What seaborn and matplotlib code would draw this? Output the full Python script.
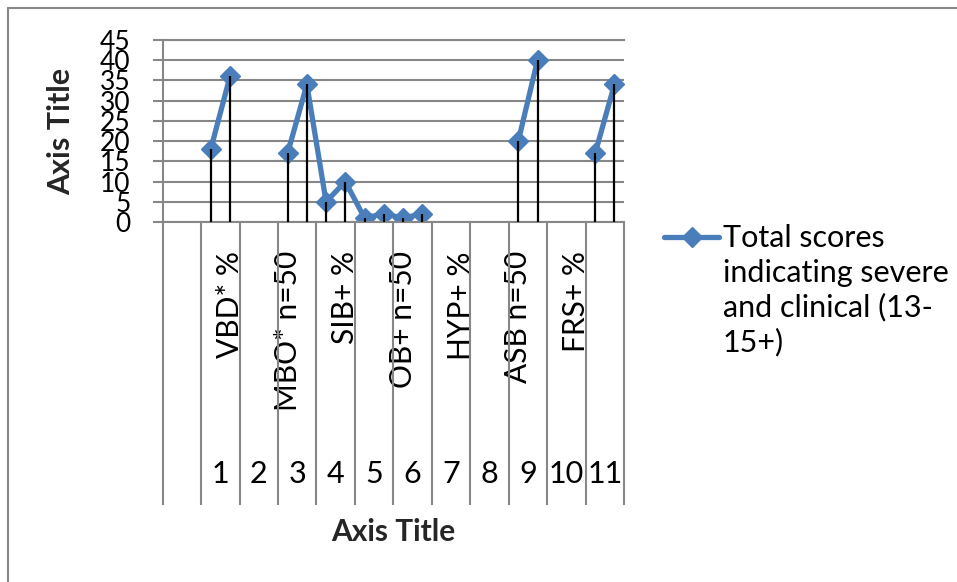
import numpy as np
import pandas as pd
import matplotlib
matplotlib.use("Agg")
import matplotlib.pyplot as plt
from matplotlib.lines import Line2D
import seaborn as sns

# Category slots along the x axis (two slots per numbered group)
slots = list(range(24))
inner_labels = ["", "", "", "VBD* %", "", "", "MBO* n=50", "", "", "SIB+ %", "", "",
                "OB+ n=50", "", "", "HYP+ %", "", "", "ASB n=50", "", "", "FRS+ %", "", ""]
group_labels = ["", "1", "2", "3", "4", "5", "6", "7", "8", "9", "10", "11"]
scores = [np.nan, np.nan, 18, 36, np.nan, np.nan, 17, 34, 5, 10, 1, 2, 1, 2,
          np.nan, np.nan, np.nan, np.nan, 20, 40, np.nan, np.nan, 17, 34]
legend_lines = ["Total scores", "indicating severe", "and clinical (13-", "15+)"]
y_ticks = list(range(0, 50, 5))

BLUE = "#4A7EBB"
GRID = "#878787"

sns.set_theme(style="white")
plt.rcParams["font.family"] = ["Lato", "DejaVu Sans"]

W, H = 957, 582
fig = plt.figure(figsize=(W / 100, H / 100), dpi=100)
fig.patch.set_facecolor("white")

def fx(px):
    return px / W

def fy(py):
    return 1 - py / H

ax_left, ax_right, ax_top, ax_bottom = 162.7, 624.0, 40.0, 222.0
ax = fig.add_axes([fx(ax_left), fy(ax_bottom), fx(ax_right - ax_left), (ax_bottom - ax_top) / H])
ax.set_facecolor("white")

# Break the series into runs of consecutive values
df = pd.DataFrame({"slot": slots, "score": scores})
df["run"] = df["score"].isna().cumsum()
pts = df.dropna()

sns.lineplot(data=pts, x="slot", y="score", units="run", estimator=None,
             color=BLUE, linewidth=3.8, marker="D", markersize=10,
             markeredgecolor=BLUE, markeredgewidth=1, legend=False, ax=ax, zorder=2)

# Drop lines from each point to the axis
ax.vlines(pts["slot"], 0, pts["score"], color="black", linewidth=1.6, zorder=3)

ax.set_xlim(-0.5, 23.5)
ax.set_ylim(0, 45)
ax.set_yticks(y_ticks)
ax.yaxis.grid(True, color=GRID, linewidth=1.5)
ax.xaxis.grid(False)
ax.set_axisbelow(True)
for side in ["left", "top", "bottom"]:
    ax.spines[side].set_visible(True)
    ax.spines[side].set_color(GRID)
    ax.spines[side].set_linewidth(1.5)
ax.spines["right"].set_visible(False)

ax.tick_params(axis="y", direction="out", length=7.2, width=1.5, color=GRID,
               labelsize=19, pad=15.8, labelcolor="black", left=True)
ax.set_xticks(slots)
ax.set_xticklabels(inner_labels, rotation=90)
ax.tick_params(axis="x", length=0, pad=21, labelsize=21.5, labelcolor="black")
ax.set_xlabel("")
ax.set_ylabel("")

# Group separators and numbered group labels below the axis
xt = ax.get_xaxis_transform()
sep_bottom = (ax_bottom - 505) / (ax_bottom - ax_top)
for i in range(len(group_labels) + 1):
    xpos = -0.5 + 2 * i
    ax.plot([xpos, xpos], [0, sep_bottom], transform=xt, color=GRID,
            linewidth=1.5, clip_on=False, solid_capstyle="butt")
lab_y = (ax_bottom - 483.3) / (ax_bottom - ax_top)
for k, lab in enumerate(group_labels):
    ax.text(0.5 + 2 * k, lab_y, lab, transform=xt, ha="center", va="baseline",
            fontsize=22, color="black")

# Axis titles
fig.text(fx(61), fy(131), "Axis Title", rotation=90, fontweight="bold",
         fontsize=22, ha="center", va="center")
fig.text(fx(393.5), fy(532), "Axis Title", fontweight="bold",
         fontsize=21.5, ha="center", va="center")

# Legend entry
fig.add_artist(Line2D([fx(664), fx(719)], [fy(236.5)] * 2, transform=fig.transFigure,
                      color=BLUE, linewidth=3.8, solid_capstyle="round"))
fig.add_artist(Line2D([fx(691.5)], [fy(236.5)], transform=fig.transFigure,
                      color=BLUE, marker="D", markersize=10.5, markeredgewidth=1))
for j, line in enumerate(legend_lines):
    fig.text(fx(723), fy(246.7 + 35 * j), line, fontsize=22, ha="left",
             va="baseline", color="black")

# Chart border
fig.add_artist(Line2D([fx(8), 1], [fy(8)] * 2, transform=fig.transFigure,
                      color=GRID, linewidth=1.5))
fig.add_artist(Line2D([fx(8)] * 2, [0, fy(8)], transform=fig.transFigure,
                      color=GRID, linewidth=1.5))

fig.savefig("out.png", dpi=100)
